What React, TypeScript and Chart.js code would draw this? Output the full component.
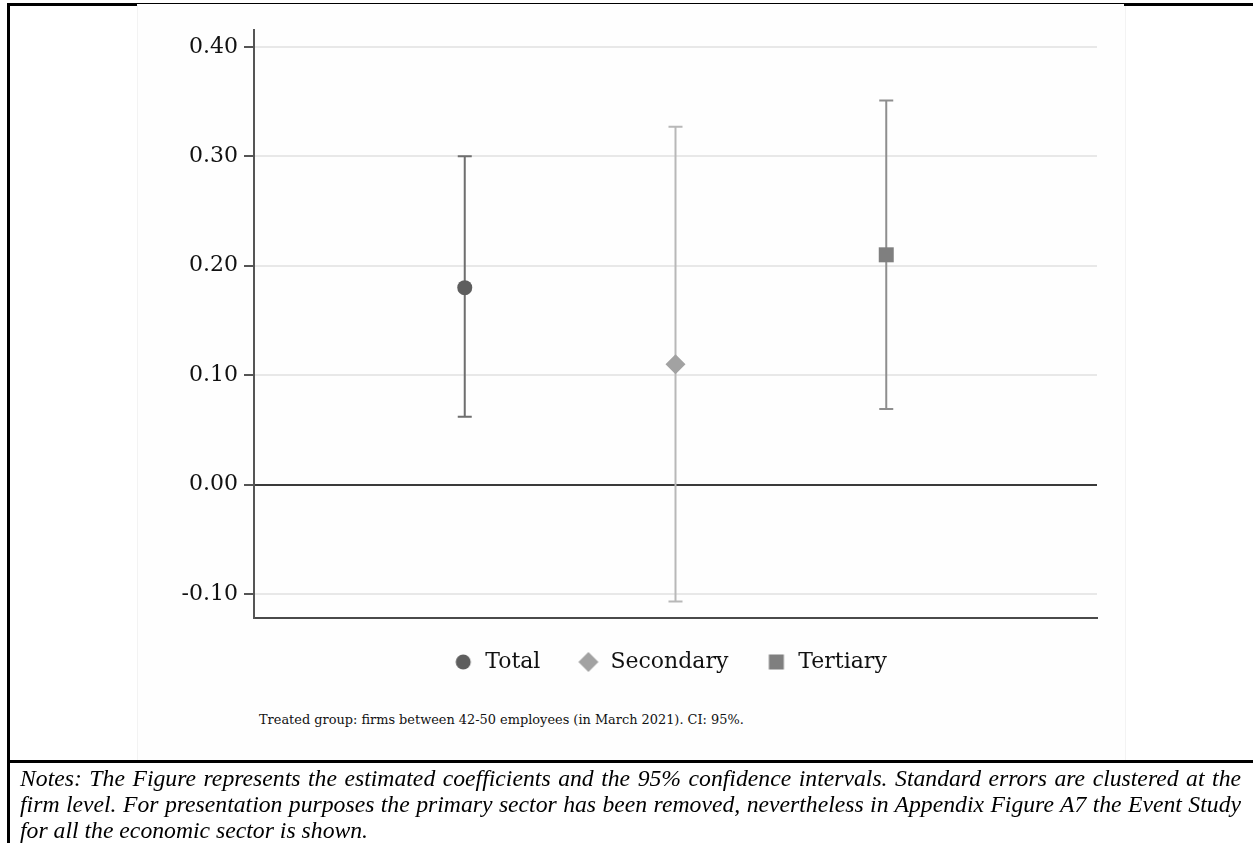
import React, { useEffect, useRef } from "react";
import { Chart, registerables } from "chart.js";
Chart.register(...registerables);

const categories = ["Total", "Secondary", "Tertiary"];
const categoryX = [1, 2, 3];
const estimates = [0.18, 0.11, 0.21];
const ciLower = [0.062, -0.107, 0.069];
const ciUpper = [0.3, 0.327, 0.351];
const yTicks = [-0.1, 0, 0.1, 0.2, 0.3, 0.4];
const markerStyles = ["circle", "rectRot", "rect"];
const markerColors = ["#5e5e5e", "#a2a2a2", "#7f7f7f"];
const barColors = ["#6e6e6e", "#b8b8b8", "#8e8e8e"];
const markerRadius = [7.5, 10, 10.6];

const noteText = "Treated group: firms between 42-50 employees (in March 2021). CI: 95%.";
const notesLines = [
  "Notes: The Figure represents the estimated coefficients and the 95% confidence intervals. Standard errors are clustered at the",
  "firm level. For presentation purposes the primary sector has been removed, nevertheless in Appendix Figure A7 the Event Study",
  "for all the economic sector is shown.",
];

function makeLegendMarker(i: number): HTMLCanvasElement {
  const c = document.createElement("canvas");
  c.width = 22;
  c.height = 22;
  const g = c.getContext("2d")!;
  g.fillStyle = markerColors[i];
  g.beginPath();
  if (markerStyles[i] === "circle") {
    g.arc(11, 11, 7.5, 0, Math.PI * 2);
  } else if (markerStyles[i] === "rectRot") {
    g.moveTo(1, 11);
    g.lineTo(11, 1);
    g.lineTo(21, 11);
    g.lineTo(11, 21);
    g.closePath();
  } else {
    g.rect(3.5, 3.5, 15, 15);
  }
  g.fill();
  return c;
}

const errorBarPlugin = {
  id: "errorBars",
  beforeDatasetsDraw(chart: any) {
    const { ctx, scales } = chart;
    const x = scales.x;
    const y = scales.y;
    ctx.save();
    categoryX.forEach((cx, i) => {
      const px = x.getPixelForValue(cx);
      const top = y.getPixelForValue(ciUpper[i]);
      const bot = y.getPixelForValue(ciLower[i]);
      ctx.strokeStyle = barColors[i];
      ctx.lineWidth = 2;
      ctx.beginPath();
      ctx.moveTo(px, top);
      ctx.lineTo(px, bot);
      ctx.moveTo(px - 7, top);
      ctx.lineTo(px + 7, top);
      ctx.moveTo(px - 7, bot);
      ctx.lineTo(px + 7, bot);
      ctx.stroke();
    });
    ctx.restore();
  },
};

const legendShiftPlugin = {
  id: "legendShift",
  afterLayout(chart: any) {
    const lg = chart.legend;
    if (lg) {
      lg.top -= 4;
      lg.bottom -= 4;
      lg.left -= 6;
      lg.right -= 6;
    }
  },
};

export default function App() {
  const canvasRef = useRef<HTMLCanvasElement | null>(null);

  useEffect(() => {
    if (!canvasRef.current) return;
    const legendMarkers = categories.map((_, i) => makeLegendMarker(i));
    const chart = new Chart(canvasRef.current, {
      type: "scatter",
      data: {
        datasets: categories.map((name, i) => ({
          label: name,
          data: [{ x: categoryX[i], y: estimates[i] }],
          pointStyle: markerStyles[i] as any,
          pointRadius: markerRadius[i],
          pointHoverRadius: markerRadius[i],
          backgroundColor: markerColors[i],
          borderColor: markerColors[i],
          pointBorderWidth: 0,
          borderWidth: 0,
        })),
      },
      options: {
        animation: false,
        responsive: false,
        maintainAspectRatio: false,
        layout: { padding: { left: 137, right: 156, top: 30, bottom: 13 } },
        plugins: {
          tooltip: { enabled: false },
          legend: {
            position: "bottom",
            fullSize: false,
            labels: {
              usePointStyle: true,
              boxWidth: 24,
              boxHeight: 12,
              padding: 37,
              color: "#111",
              font: { family: "DejaVu Serif", size: 22 },
              generateLabels: (ch: any) => {
                const items = Chart.defaults.plugins.legend.labels.generateLabels(ch);
                return items.map((it: any, i: number) => ({ ...it, pointStyle: legendMarkers[i] }));
              },
            },
          },
        },
        scales: {
          x: {
            type: "linear",
            min: 0,
            max: 4,
            ticks: { display: false },
            grid: { display: false },
            border: { display: true, color: "#4a4a4a", width: 2 },
            afterFit: (s: any) => {
              s.height = 0;
            },
          },
          y: {
            type: "linear",
            min: -0.122,
            max: 0.4155,
            afterBuildTicks: (s: any) => {
              s.ticks = yTicks.map((v) => ({ value: v }));
            },
            afterFit: (s: any) => {
              s.width = 117;
            },
            ticks: {
              color: "#111",
              padding: 6,
              font: { family: "DejaVu Serif", size: 22 },
              callback: (v: any) => Number(v).toFixed(2),
            },
            grid: {
              color: (c: any) => (c.tick && c.tick.value === 0 ? "#3a3a3a" : "#e8e8e8"),
              lineWidth: 2,
              tickLength: 10,
              tickColor: "#555",
              tickWidth: 2,
            },
            border: { display: true, color: "#555", width: 2 },
          },
        },
      },
      plugins: [errorBarPlugin, legendShiftPlugin],
    });
    return () => chart.destroy();
  }, []);

  return (
    <div style={{ position: "absolute", left: 0, top: 0, width: 1253, height: 843, background: "#fff", overflow: "hidden" }}>
      <div style={{ position: "absolute", left: 137, top: 5, width: 987, height: 755, background: "#fefefe", borderLeft: "1px solid #f3f3f3", borderRight: "1px solid #f3f3f3" }} />
      <canvas ref={canvasRef} width={1253} height={700} style={{ position: "absolute", left: 0, top: 0 }} />
      <div style={{ position: "absolute", left: 7, top: 3, width: 130, height: 3, background: "#000" }} />
      <div style={{ position: "absolute", left: 137, top: 3, width: 987, height: 1, background: "#000" }} />
      <div style={{ position: "absolute", left: 1124, top: 3, width: 129, height: 3, background: "#000" }} />
      <div style={{ position: "absolute", left: 7, top: 3, width: 3, height: 840, background: "#000" }} />
      <div style={{ position: "absolute", left: 7, top: 760, width: 1246, height: 3, background: "#000" }} />
      <div style={{ position: "absolute", left: 259, top: 711, fontFamily: "DejaVu Serif", fontSize: 12.9, color: "#111", whiteSpace: "nowrap", lineHeight: "18px" }}>
        {noteText}
      </div>
      <div style={{ position: "absolute", left: 20, top: 765, width: 1221, fontFamily: '"Liberation Serif", "Times New Roman", Times, serif', fontStyle: "italic", fontSize: 23.7, lineHeight: "26px", color: "#000" }}>
        {notesLines.map((l, i) => (
          <div key={i} style={{ textAlign: "justify", textAlignLast: i < 2 ? "justify" : "left", whiteSpace: "nowrap" }}>
            {l}
          </div>
        ))}
      </div>
    </div>
  );
}
